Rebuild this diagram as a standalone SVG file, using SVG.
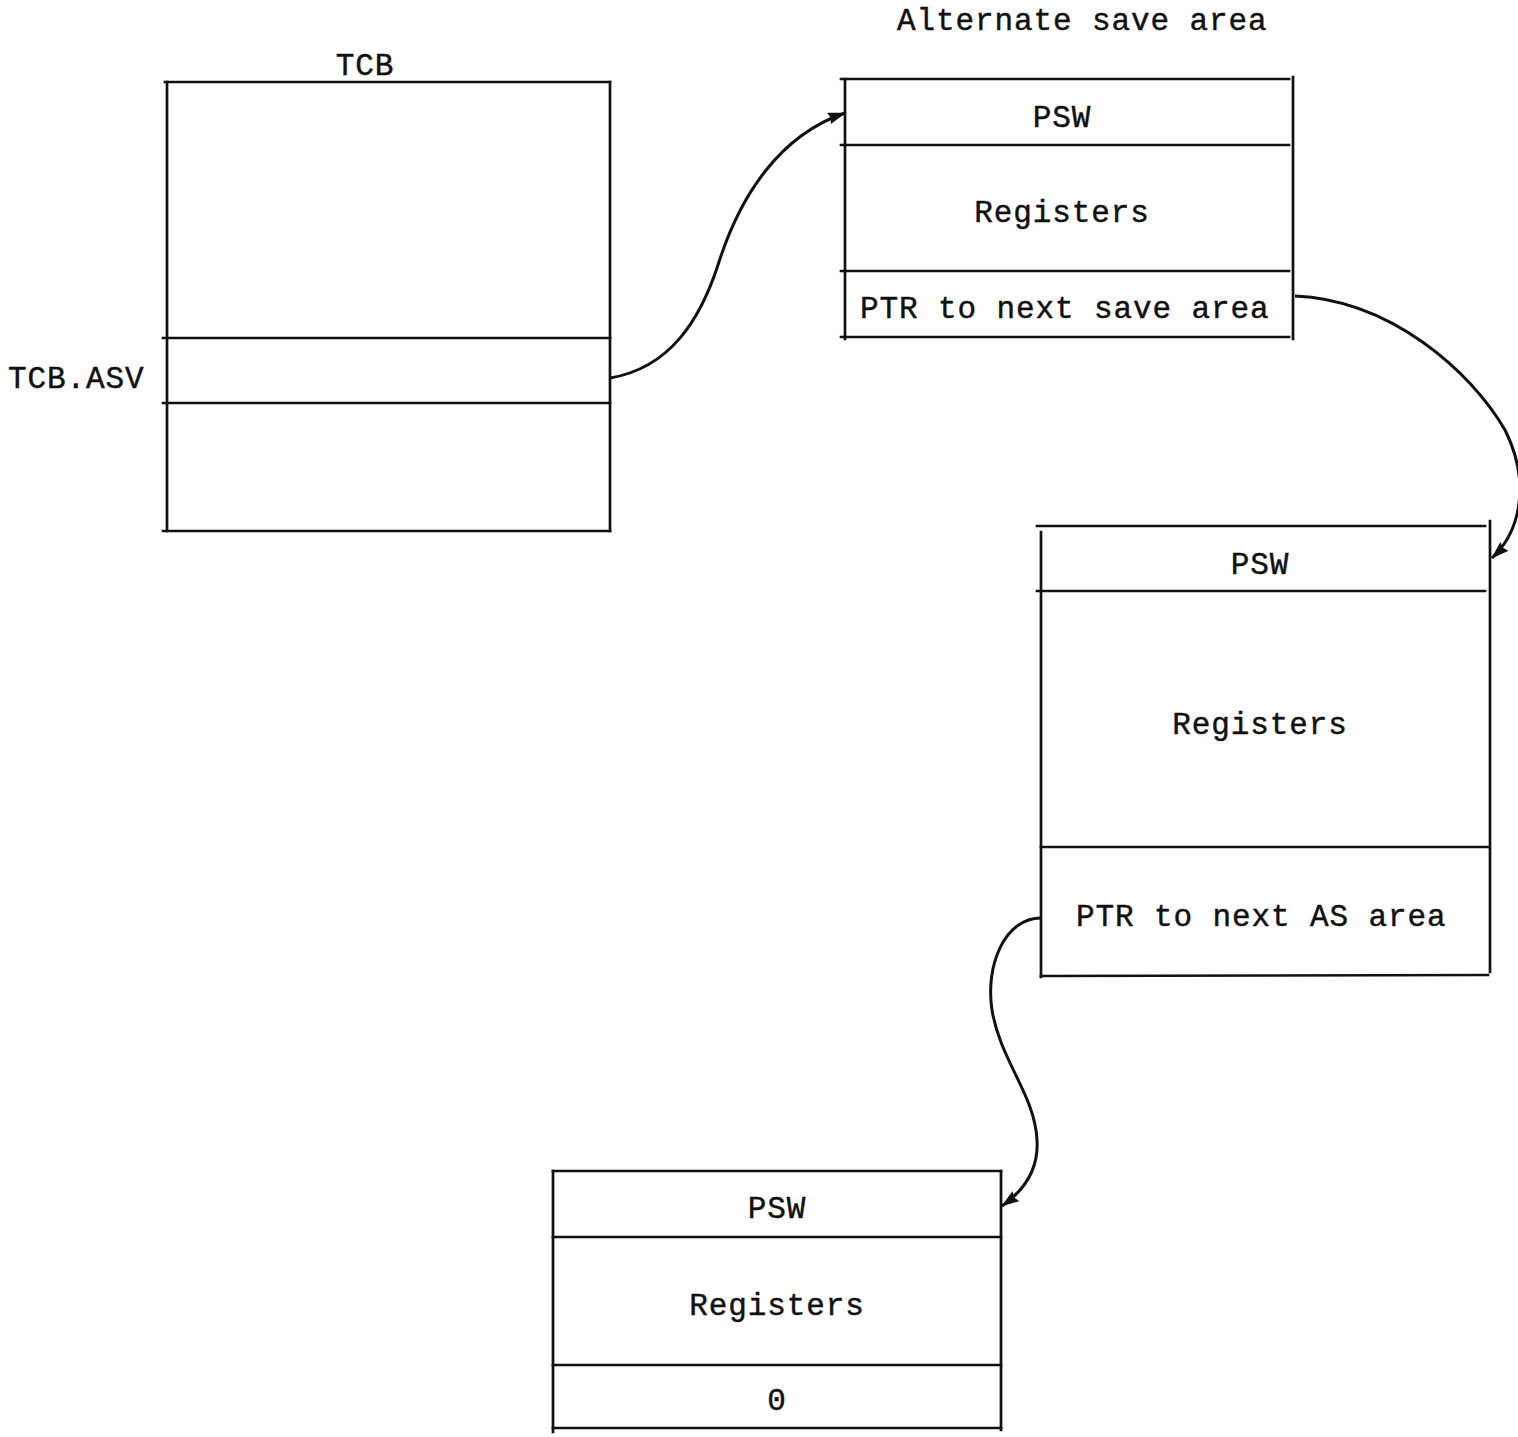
<svg xmlns="http://www.w3.org/2000/svg" width="1518" height="1437" viewBox="0 0 1518 1437">
<defs>
<style>
.ln{stroke:#111;stroke-width:2.7;fill:none;stroke-linecap:square}
.cn{stroke:#111;stroke-width:3;fill:none}
.t{font-family:"Liberation Mono","Courier New",monospace;font-size:31px;letter-spacing:0.9px;fill:#111;stroke:#111;stroke-width:0.45}
.c{text-anchor:middle}
</style>
<marker id="ah" viewBox="0 0 18 12" refX="17" refY="6" markerWidth="18" markerHeight="12" markerUnits="userSpaceOnUse" orient="auto">
<path d="M0,0 L18,6 L0,12 L2,6 z" fill="#111"/>
</marker>
</defs>
<rect width="1518" height="1437" fill="#fff"/>
<text class="t" x="897" y="30">Alternate save area</text>
<g id="tcb">
<text class="t c" x="365" y="75">TCB</text>
<text class="t" x="8" y="388">TCB.ASV</text>
<line class="ln" x1="165" y1="82" x2="610" y2="82"/>
<line class="ln" x1="167" y1="82" x2="167" y2="531"/>
<line class="ln" x1="610" y1="82" x2="610" y2="531"/>
<line class="ln" x1="163" y1="338" x2="610" y2="338"/>
<line class="ln" x1="163" y1="403" x2="610" y2="403"/>
<line class="ln" x1="163" y1="531" x2="610" y2="531"/>
</g>
<g id="save1">
<line class="ln" x1="841" y1="79" x2="1289" y2="79"/>
<line class="ln" x1="845" y1="79" x2="845" y2="339"/>
<line class="ln" x1="1293" y1="77" x2="1293" y2="339"/>
<line class="ln" x1="841" y1="145" x2="1289" y2="145"/>
<line class="ln" x1="841" y1="271" x2="1289" y2="271"/>
<line class="ln" x1="841" y1="337" x2="1289" y2="337"/>
<text class="t c" x="1062" y="127">PSW</text>
<text class="t c" x="1062" y="222">Registers</text>
<text class="t" x="860" y="318">PTR to next save area</text>
</g>
<g id="save2">
<line class="ln" x1="1037" y1="526" x2="1485" y2="526"/>
<line class="ln" x1="1041" y1="532" x2="1041" y2="977"/>
<line class="ln" x1="1490" y1="521" x2="1490" y2="972"/>
<line class="ln" x1="1037" y1="591" x2="1485" y2="591"/>
<line class="ln" x1="1041" y1="847" x2="1488" y2="847"/>
<line class="ln" x1="1041" y1="976" x2="1488" y2="975"/>
<text class="t c" x="1260" y="574">PSW</text>
<text class="t c" x="1260" y="734">Registers</text>
<text class="t" x="1076" y="926">PTR to next AS area</text>
</g>
<g id="save3">
<line class="ln" x1="553" y1="1171" x2="1001" y2="1171"/>
<line class="ln" x1="553" y1="1171" x2="553" y2="1432"/>
<line class="ln" x1="1001" y1="1171" x2="1001" y2="1430"/>
<line class="ln" x1="553" y1="1237" x2="1001" y2="1237"/>
<line class="ln" x1="553" y1="1365" x2="1001" y2="1365"/>
<line class="ln" x1="553" y1="1428" x2="1001" y2="1428"/>
<text class="t c" x="777" y="1218">PSW</text>
<text class="t c" x="777" y="1315">Registers</text>
<text class="t c" x="777" y="1410">0</text>
</g>
<g id="connectors">
<path class="cn" marker-end="url(#ah)" d="M610,378 C670,368 700,320 718,265 C740,195 780,135 845,113"/>
<path class="cn" marker-end="url(#ah)" d="M1295,296 C1390,300 1470,370 1505,430 C1530,480 1522,530 1492,558"/>
<path class="cn" marker-end="url(#ah)" d="M1041,918 C1005,918 985,965 992,1010 C1000,1060 1035,1095 1037,1140 C1039,1172 1022,1192 1002,1206"/>
</g>
</svg>
